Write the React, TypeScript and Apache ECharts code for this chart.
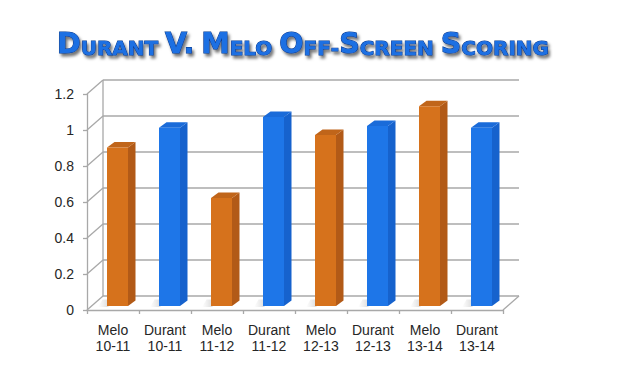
import React, { useEffect, useRef } from "react";
import * as echarts from "echarts";

const players = ["Melo", "Durant", "Melo", "Durant", "Melo", "Durant", "Melo", "Durant"];
const seasons = ["10-11", "10-11", "11-12", "11-12", "12-13", "12-13", "13-14", "13-14"];
const values = [0.88, 0.99, 0.6, 1.05, 0.95, 1.0, 1.11, 0.99];
const yTicks = [0, 0.2, 0.4, 0.6, 0.8, 1, 1.2];
// title in small caps: [capital, rest]
const titleWords = [
  ["D", "URANT"],
  ["V.", ""],
  ["M", "ELO"],
  ["O", "FF-"],
  ["S", "CREEN"],
  ["S", "CORING"],
];

const categories = players.map((p, i) => p + "\n" + seasons[i]);

const playerColors: Record<string, { front: string; side: string; top: string }> = {
  Melo: { front: "#D6721C", side: "#B25A17", top: "#C0651A" },
  Durant: { front: "#1E76E8", side: "#1662CD", top: "#1A6BD9" },
};

const GRID = "#A8A8A8";
const BACK_DX = 16;
const BACK_DY = -14;

function buildTitle() {
  const parts: string[] = [];
  titleWords.forEach(([cap, rest], i) => {
    let s = "{b|" + cap + "}";
    if (rest) {
      if (rest.endsWith("-")) s += "{s|" + rest.slice(0, -1) + "}{s|-}";
      else s += "{s|" + rest + "}";
    }
    const next = titleWords[i + 1];
    const noSpace = rest.endsWith("-");
    if (next && !noSpace) s += "{s| }";
    parts.push(s);
  });
  return parts.join("");
}

export default function App() {
  const ref = useRef<HTMLDivElement>(null);
  useEffect(() => {
    if (!ref.current) return;
    const chart = echarts.init(ref.current, null, { renderer: "svg" });
    const titleCommon = {
      fontFamily: "DejaVu Sans",
      fontWeight: 900,
      color: "#1F6FE3",
      textBorderColor: "#0A3A8C",
      textBorderWidth: 1,
      textShadowColor: "rgba(0,0,0,0.55)",
      textShadowBlur: 3,
      textShadowOffsetX: 2,
      textShadowOffsetY: 3,
      verticalAlign: "bottom",
    };
    const option: any = {
      animation: false,
      backgroundColor: "#ffffff",
      title: {
        text: buildTitle(),
        left: 52,
        top: 22,
        textStyle: {
          rich: {
            b: { ...titleCommon, fontSize: 28.5, lineHeight: 31 },
            s: { ...titleCommon, fontSize: 20, lineHeight: 31 },
          },
        },
      },
      grid: { left: 87, top: 94, width: 416, height: 216, containLabel: false },
      xAxis: {
        type: "category",
        data: categories,
        boundaryGap: true,
        axisLine: { show: true, lineStyle: { color: GRID, width: 1.3 } },
        axisTick: { show: true, length: 4, lineStyle: { color: GRID, width: 1.3 } },
        axisLabel: {
          interval: 0,
          margin: 12,
          fontFamily: "Liberation Sans",
          fontSize: 14,
          lineHeight: 16,
          color: "#262626",
        },
        splitLine: { show: false },
      },
      yAxis: {
        type: "value",
        min: 0,
        max: 1.2,
        interval: 0.2,
        axisLine: { show: true, lineStyle: { color: GRID, width: 1.3 } },
        axisTick: { show: true, length: 4, lineStyle: { color: GRID, width: 1.3 } },
        axisLabel: {
          margin: 13,
          fontFamily: "Liberation Sans",
          fontSize: 14,
          color: "#262626",
          formatter: (v: number) => String(Math.round(v * 10) / 10),
        },
        splitLine: { show: false },
      },
      series: [
        {
          type: "custom",
          name: "walls",
          z: 1,
          silent: true,
          data: yTicks.map((t) => [0, t]),
          encode: { x: 0, y: 1 },
          renderItem: (params: any, api: any) => {
            const cs = params.coordSys;
            const L = cs.x;
            const R = cs.x + cs.width;
            const y = api.coord([0, api.value(1)])[1];
            const ls = { stroke: GRID, lineWidth: 1.3, fill: null };
            const children: any[] = [
              { type: "line", shape: { x1: L, y1: y, x2: L + BACK_DX, y2: y + BACK_DY }, style: ls },
              {
                type: "line",
                shape: { x1: L + BACK_DX, y1: y + BACK_DY, x2: R + BACK_DX, y2: y + BACK_DY },
                style: ls,
              },
            ];
            if (params.dataIndex === 0) {
              children.push({
                type: "line",
                shape: { x1: L + BACK_DX, y1: cs.y + BACK_DY, x2: L + BACK_DX, y2: cs.y + cs.height + BACK_DY },
                style: ls,
              });
              children.push({
                type: "line",
                shape: { x1: R, y1: y, x2: R + BACK_DX, y2: y + BACK_DY },
                style: ls,
              });
            }
            return { type: "group", children };
          },
        },
        {
          type: "custom",
          name: "bars",
          z: 3,
          data: values.map((v, i) => [i, v]),
          encode: { x: 0, y: 1 },
          renderItem: (params: any, api: any) => {
            const idx = api.value(0);
            const v = api.value(1);
            const top = api.coord([idx, v]);
            const base = api.coord([idx, 0]);
            const bw = 21;
            const ox = 4.5;
            const oy = -4;
            const dx = 7.5;
            const dy = -5.5;
            const xl = top[0] - bw / 2 + ox;
            const xr = xl + bw;
            const yt = top[1] + oy;
            const yb = base[1] + oy;
            const c = playerColors[players[idx]];
            return {
              type: "group",
              children: [
                {
                  type: "polygon",
                  shape: {
                    points: [
                      [xl - 9, yb + 1],
                      [xl + 1, yb + 1],
                      [xl + dx, yb + dy - 1],
                      [xl + dx - 12, yb + dy - 1],
                    ],
                  },
                  style: {
                    fill: new echarts.graphic.LinearGradient(0, 0, 1, 0, [
                      { offset: 0, color: "rgba(150,150,150,0)" },
                      { offset: 1, color: "rgba(120,120,120,0.45)" },
                    ]),
                  },
                },
                {
                  type: "polygon",
                  shape: { points: [[xr, yt], [xr + dx, yt + dy], [xr + dx, yb + dy], [xr, yb]] },
                  style: { fill: c.side },
                },
                {
                  type: "polygon",
                  shape: { points: [[xl, yt], [xl + dx, yt + dy], [xr + dx, yt + dy], [xr, yt]] },
                  style: { fill: c.top },
                },
                {
                  type: "rect",
                  shape: { x: xl, y: yt, width: bw, height: yb - yt },
                  style: { fill: c.front },
                },
              ],
            };
          },
        },
      ],
    };
    chart.setOption(option);
    return () => chart.dispose();
  }, []);
  return (
    <div
      ref={ref}
      style={{ position: "absolute", left: 0, top: 0, width: 640, height: 375, background: "#fff" }}
    />
  );
}
